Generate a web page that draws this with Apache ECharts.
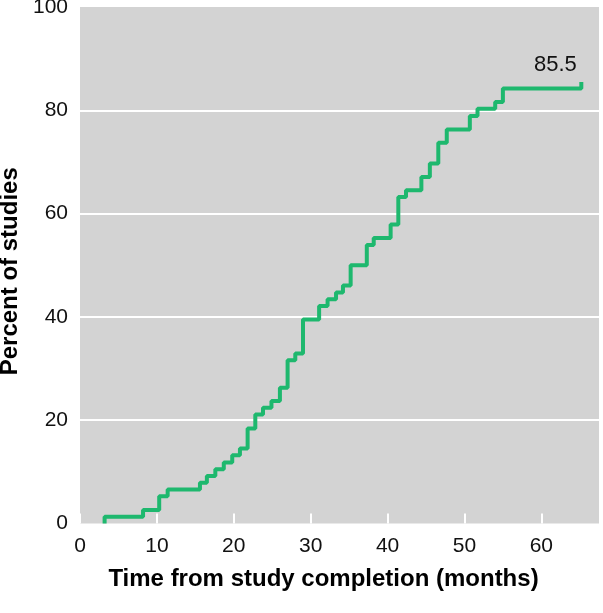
<!DOCTYPE html>
<html>
<head>
<meta charset="utf-8">
<script src="https://cdn.jsdelivr.net/npm/echarts@6/dist/echarts.min.js"></script>
<style>
html,body{margin:0;padding:0;background:#fff;}
#chart{width:603px;height:613px;}
</style>
</head>
<body>
<div id="chart"></div>
<script>
// Time (months) at which each step occurs
var months = [3.2, 3.2, 8.2, 10.3, 11.4, 15.6, 16.5, 17.6, 18.7, 19.8, 20.8, 21.8, 22.8, 23.8, 24.9, 26.0, 27.0, 28.0, 29.0, 31.1, 32.2, 33.3, 34.2, 35.2, 37.3, 38.2, 40.4, 41.4, 42.4, 44.4, 45.5, 46.6, 47.7, 50.7, 51.7, 54.0, 55.0, 65.2];
// Cumulative percent of studies after each step
var percents = [0, 1.3, 2.6, 5.3, 6.6, 7.9, 9.2, 10.5, 11.8, 13.2, 14.5, 18.4, 21.1, 22.4, 23.7, 26.3, 31.6, 32.9, 39.5, 42.1, 43.4, 44.7, 46.1, 50.0, 53.9, 55.3, 57.9, 63.2, 64.5, 67.1, 69.7, 73.7, 76.3, 78.9, 80.3, 81.6, 84.2, 85.5];
var finalLabel = '85.5';
var xTitle = 'Time from study completion (months)';
var yTitle = 'Percent of studies';

var font = 'Liberation Sans, Arial, Helvetica, sans-serif';
var data = months.map(function (m, i) { return [m, percents[i]]; });
var last = months.length - 1;

var chart = echarts.init(document.getElementById('chart'), null, { renderer: 'canvas' });
chart.setOption({
  animation: false,
  grid: {
    left: 80, right: 4, top: 7, bottom: 89.5,
    outerBoundsMode: 'none', containLabel: false,
    show: true, backgroundColor: '#d3d3d3', borderWidth: 0
  },
  xAxis: {
    type: 'value', min: 0, max: 67.5, interval: 10,
    axisLine: { show: false },
    axisTick: { show: true, inside: true, length: 10, lineStyle: { color: '#ffffff', width: 2 } },
    axisLabel: { showMaxLabel: false, fontSize: 21, color: '#111', fontFamily: font, margin: 12 },
    splitLine: { show: false },
    name: xTitle, nameLocation: 'middle', nameGap: 44,
    nameTextStyle: { fontSize: 24, fontWeight: 'bold', color: '#000', fontFamily: font, padding: [0, 32, 0, 0] }
  },
  yAxis: {
    type: 'value', min: 0, max: 100, interval: 20,
    axisLine: { show: false },
    axisTick: { show: false },
    axisLabel: { fontSize: 21, color: '#111', fontFamily: font, margin: 12 },
    splitLine: { show: true, showMinLine: false, showMaxLine: false, lineStyle: { color: '#ffffff', width: 2 } },
    name: yTitle, nameLocation: 'middle', nameGap: 57,
    nameTextStyle: { fontSize: 24, fontWeight: 'bold', color: '#000', fontFamily: font, padding: [0, 12, 0, 0] }
  },
  series: [{
    type: 'line', step: 'end', showSymbol: false, symbol: 'none',
    data: data,
    lineStyle: { color: '#1eb86e', width: 4 },
    itemStyle: { color: '#1eb86e' },
    markPoint: {
      symbol: 'rect', symbolSize: [1, 1],
      itemStyle: { color: 'rgba(0,0,0,0)' },
      label: {
        show: true, position: 'top', distance: 5, offset: [-26, 0],
        formatter: finalLabel, fontSize: 22, color: '#111', fontFamily: font
      },
      data: [{ coord: [months[last], percents[last]] }]
    }
  }]
});
</script>
</body>
</html>
